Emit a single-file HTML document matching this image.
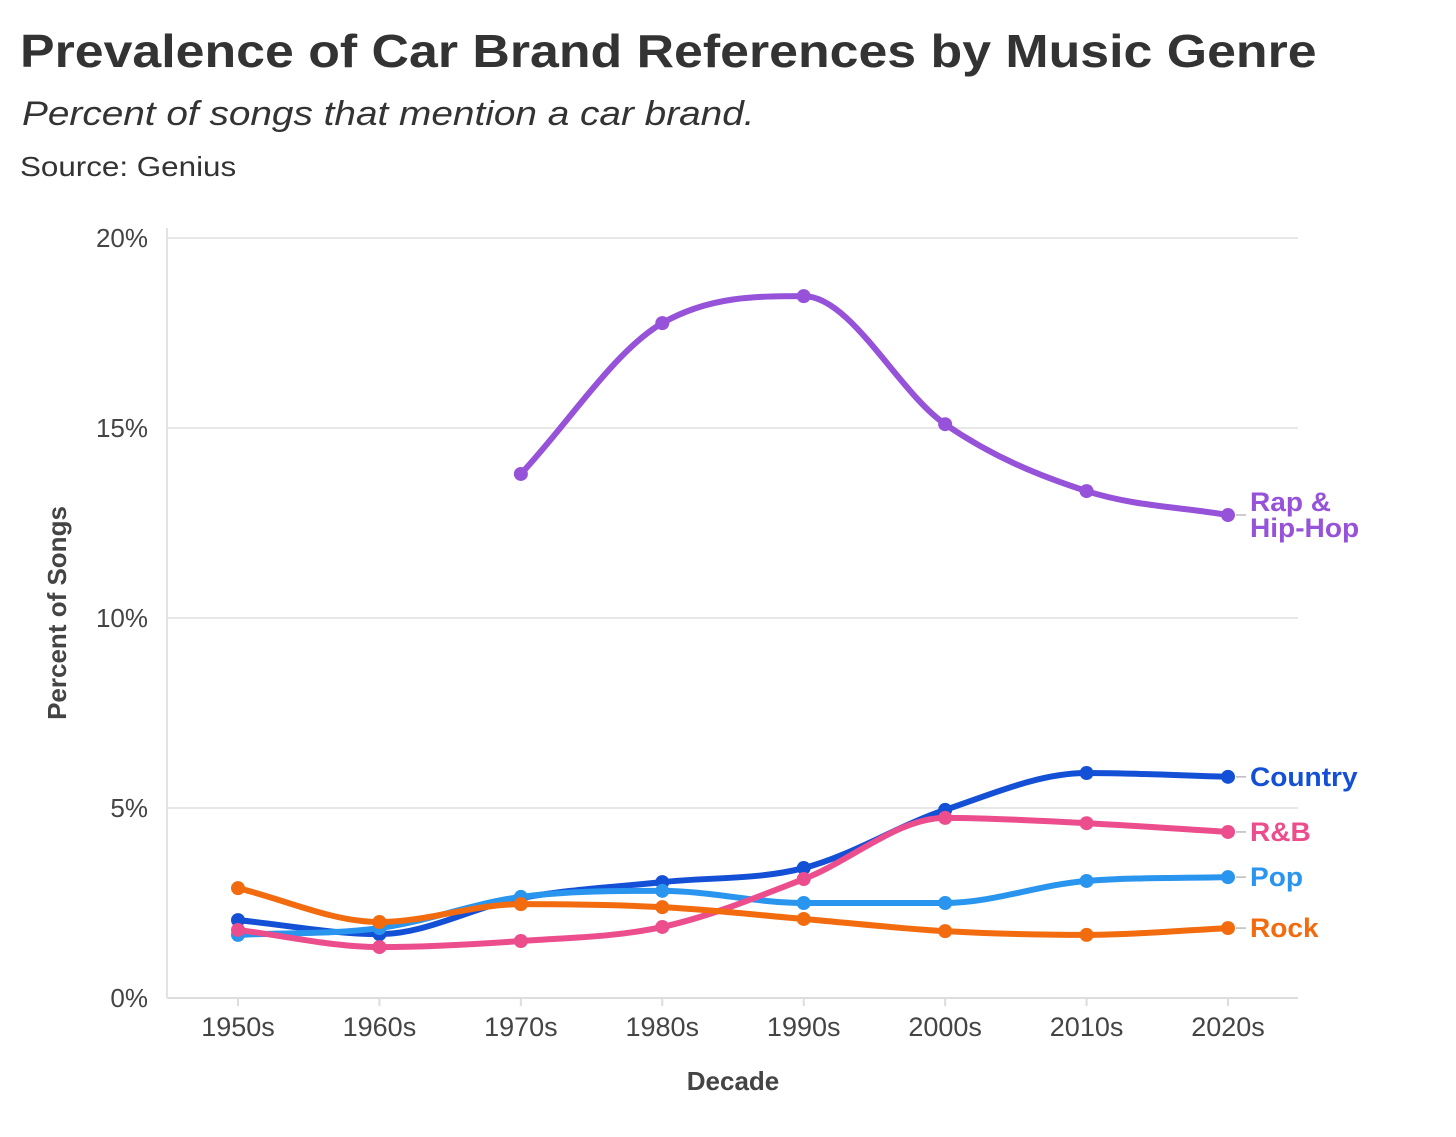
<!DOCTYPE html>
<html><head><meta charset="utf-8"><style>
body{margin:0;background:#fff;width:1456px;height:1137px;overflow:hidden;font-family:"Liberation Sans",sans-serif;color:#333}
#title{position:absolute;left:20px;top:24px;font-size:46px;font-weight:bold;color:#333;transform-origin:0 0;transform:scaleX(1.127);white-space:nowrap}
#sub{position:absolute;left:22px;top:95px;font-size:34px;font-style:italic;color:#333;transform-origin:0 0;transform:scaleX(1.14);white-space:nowrap}
#src{position:absolute;left:20px;top:151px;font-size:28px;color:#333;transform-origin:0 0;transform:scaleX(1.12);white-space:nowrap}
svg{position:absolute;left:0;top:0}
</style></head><body>
<div id="title">Prevalence of Car Brand References by Music Genre</div>
<div id="sub">Percent of songs that mention a car brand.</div>
<div id="src">Source: Genius</div>
<svg id="chart" width="1456" height="1137"></svg>
<script>
const decades=["1950s","1960s","1970s","1980s","1990s","2000s","2010s","2020s"];
const yTicks=[0,5,10,15,20];
const rap=[null,null,13.79,17.76,18.47,15.1,13.34,12.71];
const country=[2.05,1.68,2.63,3.05,3.42,4.95,5.92,5.82];
const pop=[1.66,1.84,2.66,2.82,2.5,2.5,3.08,3.18];
const rnb=[1.79,1.34,1.5,1.87,3.13,4.74,4.6,4.37];
const rock=[2.89,2.0,2.47,2.39,2.08,1.76,1.66,1.84];
const NS="http://www.w3.org/2000/svg";
const svg=document.getElementById('chart');
const x=i=>238+i*(1228-238)/7;
const y=v=>998-v*38;
function mk(t,a,p){const e=document.createElementNS(NS,t);for(const k in a)e.setAttribute(k,a[k]);(p||svg).appendChild(e);return e;}
yTicks.forEach(t=>{
  const g=mk('line',{x1:167,x2:1298,y1:y(t),y2:y(t),stroke:t===0?'#ddd':'#e8e8e8','stroke-width':2});
  
  
  const l=mk('text',{x:148,y:y(t)+9,'text-anchor':'end','font-size':26,fill:'#444','font-family':'Liberation Sans'});
  l.textContent=t+'%';
  
  
});
const ya=mk('line',{x1:167,x2:167,y1:228,y2:998,stroke:'#e3e3e3','stroke-width':2});


decades.forEach((d,i)=>{
  const tk=mk('line',{x1:x(i),x2:x(i),y1:998,y2:1006,stroke:'#ddd','stroke-width':2});
  
  
  const l=mk('text',{x:x(i),y:1036,'text-anchor':'middle','font-size':27,fill:'#444','font-family':'Liberation Sans'});
  l.textContent=d;
  
  
});
const xt=mk('text',{x:733,y:1090,'text-anchor':'middle','font-size':26,'font-weight':'bold',fill:'#444','font-family':'Liberation Sans'});
xt.textContent='Decade';


const yt=mk('text',{x:0,y:0,transform:'translate(66,613) rotate(-90)','text-anchor':'middle','font-size':26,'font-weight':'bold',fill:'#444','font-family':'Liberation Sans'});
yt.textContent='Percent of Songs';


function path(pts){
  const n=pts.length,sl=[],m=[];
  for(let i=0;i<n-1;i++)sl.push((pts[i+1][1]-pts[i][1])/(pts[i+1][0]-pts[i][0]));
  for(let i=0;i<n;i++){
    if(i===0)m.push(sl[0]);else if(i===n-1)m.push(sl[n-2]);
    else{const a=sl[i-1],b=sl[i];m.push(a*b<=0?0:(a+b)/2);}
  }
  for(let i=0;i<n-1;i++){
    if(sl[i]===0){m[i]=0;m[i+1]=0;continue;}
    const a=m[i]/sl[i],b=m[i+1]/sl[i],s=a*a+b*b;
    if(s>9){const t=3/Math.sqrt(s);m[i]=t*a*sl[i];m[i+1]=t*b*sl[i];}
  }
  let d='M'+pts[0][0]+','+pts[0][1];
  for(let i=0;i<n-1;i++){
    const h=(pts[i+1][0]-pts[i][0])/3;
    d+=' C'+(pts[i][0]+h)+','+(pts[i][1]+m[i]*h)+' '+(pts[i+1][0]-h)+','+(pts[i+1][1]-m[i+1]*h)+' '+pts[i+1][0]+','+pts[i+1][1];
  }
  return d;
}
function series(vals,color,name,labels,ly){
  const pts=[];vals.forEach((v,i)=>{if(v!==null)pts.push([x(i),y(v)]);});
  const p=mk('path',{d:path(pts),fill:'none',stroke:color,'stroke-width':6,'stroke-linecap':'round'});
  
  
  pts.forEach(q=>{
    const c=mk('circle',{cx:q[0],cy:q[1],r:7,fill:color});
    
    
  });
  const last=pts[pts.length-1];
  mk('line',{x1:last[0]+8,x2:last[0]+18,y1:last[1],y2:last[1],stroke:'#bbb','stroke-width':1.5});
  const t=mk('text',{x:1250,y:last[1]+9+(ly||0),'font-size':27,'font-weight':'bold',fill:color,'font-family':'Liberation Sans',transform:'translate(1250,0) scale(1.04,1) translate(-1250,0)'});
  labels.forEach((s,k)=>{const ts=mk('tspan',{x:1250,dy:k?26:0},t);ts.textContent=s;});
  
  
}
series(country,'#1450d6','country',['Country']);
series(pop,'#2a95ee','pop',['Pop']);
series(rnb,'#ec4d8d','rnb',['R&B']);
series(rock,'#f26b0f','rock',['Rock']);
series(rap,'#9652d8','rap',['Rap &','Hip-Hop'],-13);
</script>
</body></html>
